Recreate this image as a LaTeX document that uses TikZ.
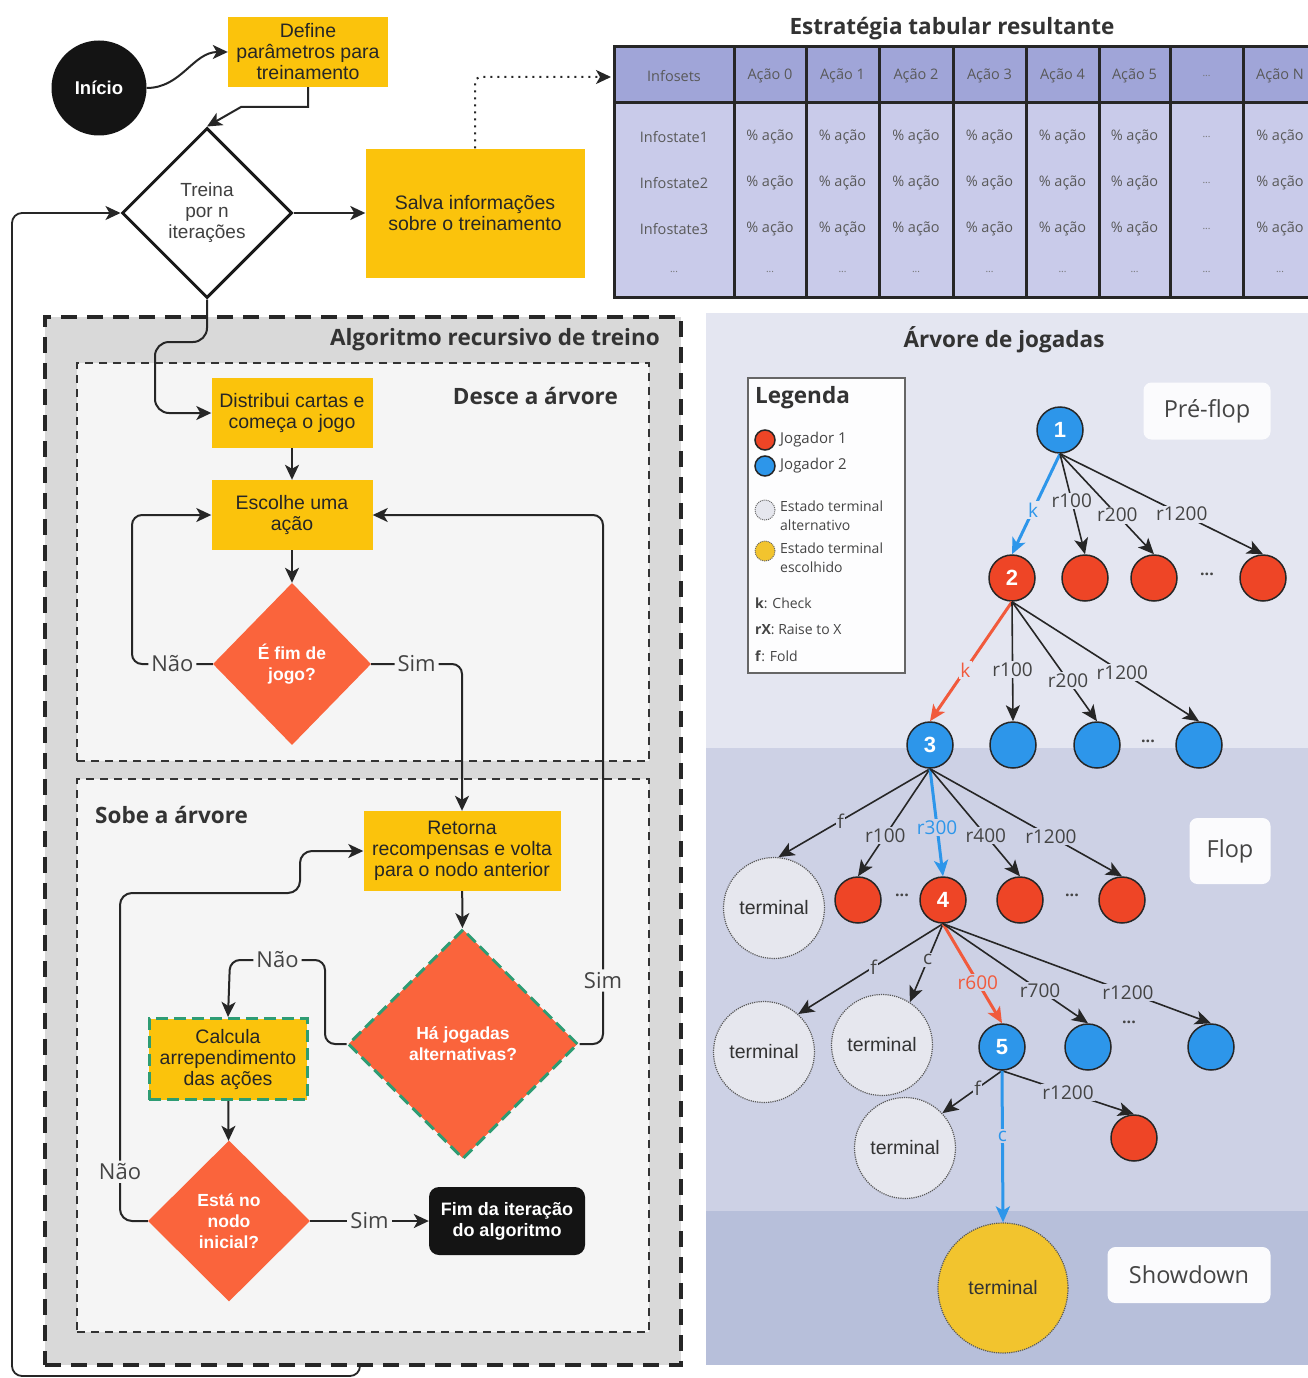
\documentclass[tikz,border=0pt]{standalone}
\usepackage{fontspec}
\setmainfont{Liberation Sans}
\newfontfamily\osf{Open Sans}
\usetikzlibrary{shapes.geometric,arrows.meta}
\definecolor{yel}{HTML}{FBC30C}
\definecolor{org}{HTML}{FA643C}
\definecolor{grn}{HTML}{2E9C73}
\definecolor{outerbg}{HTML}{D9D9D9}
\definecolor{innerbg}{HTML}{F5F5F5}
\definecolor{bandA}{HTML}{E4E6F1}
\definecolor{bandB}{HTML}{CDD1E5}
\definecolor{bandC}{HTML}{B7BFDA}
\definecolor{thead}{HTML}{A0A5D8}
\definecolor{tbody}{HTML}{C9CBEA}
\definecolor{pl1}{HTML}{EE4526}
\definecolor{pl2}{HTML}{2D96EA}
\definecolor{redl}{HTML}{F15A3C}
\definecolor{txt}{HTML}{333333}
\definecolor{lbl}{HTML}{444444}
\definecolor{termfill}{HTML}{E6E7EE}
\definecolor{gold}{HTML}{F2C42E}
\newcommand{\fs}[2]{\fontsize{#1}{#2}\selectfont}
\begin{document}
\begin{tikzpicture}[x=1pt,y=-1pt,
  ybox/.style={rectangle, fill=yel, align=center, inner sep=0pt, font=\fs{19.5}{21}, text=black!85},
  dmd/.style={diamond, aspect=1, inner sep=0pt, align=center},
  odmd/.style={dmd, fill=org, text=white, font=\fs{17.5}{21}\bfseries},
  arr/.style={draw=black!85, line width=2pt, -{Stealth[length=15pt,width=14pt,inset=4pt]}},
  flab/.style={fill=innerbg, inner sep=3pt, font=\osf\fs{22}{24}, text=lbl},
  ttl/.style={font=\osf\bfseries\fs{22.5}{26}, text=txt, inner sep=0pt},
  pnode/.style={circle, draw=black!85, line width=1.5pt, minimum size=46pt, inner sep=0pt, font=\bfseries\fs{22}{24}, text=white},
  p1/.style={pnode, fill=pl1},
  p2/.style={pnode, fill=pl2},
  term/.style={circle, fill=termfill, draw=black!65, densely dotted, line width=1.2pt, minimum size=101pt, inner sep=0pt, font=\fs{19.5}{20}, text=txt},
  tedge/.style={draw=black!85, line width=1.6pt, -{Stealth[length=16pt,width=14pt,inset=4pt]}},
  bedge/.style={tedge, draw=pl2, line width=3pt},
  redge/.style={tedge, draw=redl, line width=3pt},
  tl/.style={inner sep=1.5pt, font=\osf\fs{19}{20}, text=lbl},
  tlA/.style={tl, fill=bandA},
  tlB/.style={tl, fill=bandB},
  dots/.style={font=\osf\bfseries\fs{16}{18}, text=lbl, inner sep=0pt},
  phase/.style={rectangle, rounded corners=8pt, fill=white!85!bandA, font=\osf\fs{23.5}{26}, text=lbl, inner sep=0pt},
  tabt/.style={font=\osf\fs{14.5}{16}, text=black!65, inner sep=0pt},
  tabd/.style={font=\osf\fs{10}{12}, text=black!55, inner sep=0pt},
  lgtx/.style={font=\osf\fs{15}{17}, text=lbl, inner sep=0pt, anchor=west},
  lgsm/.style={font=\osf\fs{14}{19}, text=lbl, inner sep=0pt, anchor=west, align=left},
]
\useasboundingbox (0,0) rectangle (1308,1378);
\fill[white] (0,0) rectangle (1308,1378);
% ---------- right panel bands
\fill[bandA] (706,313) rectangle (1308,748);
\fill[bandB] (706,748) rectangle (1308,1211);
\fill[bandC] (706,1211) rectangle (1308,1365);
% ---------- algorithm boxes
\node[draw=black!85, fill=outerbg, line width=4pt, dash pattern=on 16pt off 10pt, minimum width=636pt, minimum height=1048pt, inner sep=0pt, anchor=north west] (algo) at (43,315) {};
\node[draw=black!80, fill=innerbg, line width=2pt, dash pattern=on 8pt off 6pt, minimum width=572pt, minimum height=398pt, inner sep=0pt, anchor=north west] (desce) at (76,362) {};
\node[draw=black!80, fill=innerbg, line width=2pt, dash pattern=on 8pt off 6pt, minimum width=572pt, minimum height=553pt, inner sep=0pt, anchor=north west] (sobe) at (76,778) {};
\node[ttl, anchor=east] (algot) at (660,340) {Algoritmo recursivo de treino};
\node[ttl, anchor=east] (descet) at (618,396) {Desce a árvore};
\node[ttl, anchor=west] (sobet) at (95,815) {Sobe a árvore};
\node[ttl] (tabtitle) at (952,29) {Estratégia tabular resultante};
\node[ttl] (arvt) at (1004,340) {Árvore de jogadas};
% ---------- table
\fill[thead] (614,47) rectangle (1308,103);
\fill[tbody] (614,103) rectangle (1308,297);
\draw[line width=3pt, black!85] (1308,47) -- (614,47) -- (614,297) -- (1308,297);
\draw[line width=3pt, black!85] (614,103) -- (1308,103);
\foreach \x in {734,806,879,953,1026,1099,1170,1243} \draw[line width=3pt, black!85] (\x,47) -- (\x,297);
\foreach \x/\t [count=\i] in {674/Infosets,770/Ação 0,842.5/Ação 1,916/Ação 2,989.5/Ação 3,1062.5/Ação 4,1134.5/Ação 5,1280/Ação N}
  \node[tabt] (h\i) at (\x,76) {\t};
\node[tabd] (h9) at (1206.5,76) {...};
\foreach \y/\r in {137/1,183/2,229/3} {
  \node[tabt] (r\r-0) at (674,\y) {Infostate\r};
  \foreach \x [count=\i] in {770,842.5,916,989.5,1062.5,1134.5} \node[tabt] (r\r-\i) at (\x,\y) {\% ação};
  \node[tabd] (r\r-7) at (1206.5,\y) {...};
  \node[tabt] (r\r-8) at (1280,\y) {\% ação};
}
\foreach \x [count=\i] in {674,770,842.5,916,989.5,1062.5,1134.5,1206.5,1280} \node[tabd] (r4-\i) at (\x,272) {...};
\coordinate (tabin) at (611,77);
% ---------- top flow
\node[circle, fill=black!92, minimum size=95pt, inner sep=0pt, text=white, font=\bfseries\fs{18.5}{20}] (inicio) at (99,88) {Início};
\node[ybox, minimum width=160pt, minimum height=70pt] (define) at (308,52) {Define\\parâmetros para\\treinamento};
\node[dmd, draw=black!90, line width=3pt, minimum width=170pt, minimum height=170pt, font=\fs{19}{21}, text=black!75] (treina) at (207,213) {Treina\\por n\\iterações};
\node[ybox, minimum width=219pt, minimum height=129pt] (salva) at (475,213) {Salva informações\\sobre o treinamento};
\draw[arr] (inicio.east) to[out=0,in=180] (define.west);
\draw[arr] (define.south) -- (308,107) -- (241,107) -- (treina.north);
\draw[arr] (treina.east) -- (salva.west);
\draw[arr, dash pattern=on 2pt off 5pt, rounded corners=6pt] (salva.north) |- (tabin);
% ---------- desce
\node[ybox, minimum width=161pt, minimum height=70pt] (distribui) at (292,413) {Distribui cartas e\\começa o jogo};
\node[ybox, minimum width=161pt, minimum height=70pt] (escolhe) at (292,515) {Escolhe uma\\ação};
\node[odmd, minimum width=158pt, minimum height=162pt] (fimjogo) at (292,664) {É fim de\\jogo?};
\draw[arr, rounded corners=14pt] (treina.south) -- (207,342) -- (155,342) -- (155,413) -- (distribui.west);
\draw[arr] (distribui) -- (escolhe);
\draw[arr] (escolhe) -- (fimjogo);
\draw[arr, rounded corners=10pt] (fimjogo.west) -- node[flab]{Não} (132,664) -- (132,515) -- (escolhe.west);
% ---------- sobe
\node[ybox, minimum width=197pt, minimum height=80pt] (retorna) at (462,851) {Retorna\\recompensas e volta\\para o nodo anterior};
\node[odmd, draw=grn, line width=3pt, dash pattern=on 12pt off 6pt, minimum width=230pt, minimum height=230pt] (ha) at (463,1044) {Há jogadas\\alternativas?};
\node[ybox, draw=grn, line width=3pt, dash pattern=on 12pt off 6pt, minimum width=158pt, minimum height=81pt] (calcula) at (228,1059) {Calcula\\arrependimento\\das ações};
\node[odmd, minimum width=162pt, minimum height=161pt] (esta) at (229,1221) {Está no\\nodo\\inicial?};
\node[rectangle, rounded corners=10pt, fill=black!92, text=white, font=\fs{18}{21}\bfseries, minimum width=156pt, minimum height=68pt, align=center, inner sep=0pt] (fimit) at (507,1221) {Fim da iteração\\do algoritmo};
\draw[arr, rounded corners=10pt] (fimjogo.east) -- node[flab]{Sim} (462,664) -- (retorna.north);
\draw[arr] (retorna) -- (ha);
\draw[arr, rounded corners=10pt] (ha.west) -- (325,1044) -- (325,960) -- node[flab]{Não} (230,960) -- (calcula.north);
\draw[arr, rounded corners=10pt] (ha.east) -- (603,1044) -- node[flab, pos=0.12]{Sim} (603,515) -- (escolhe.east);
\draw[arr] (calcula) -- (esta);
\draw[arr] (esta.east) -- node[flab]{Sim} (fimit.west);
\draw[arr, rounded corners=12pt] (esta.west) -- (120,1221) -- node[flab, pos=0.15]{Não} (120,893) -- (300,893) -- (300,851) -- (retorna.west);
\coordinate (lpstart) at (360,1364);
\draw[arr, line width=1.8pt, rounded corners=10pt] (lpstart) -- (360,1376) -- (12,1376) -- (12,213) -- (treina.west);
% ---------- legend
\node[draw=black!60, line width=2pt, fill=white!93!bandA, minimum width=157pt, minimum height=295pt, inner sep=0pt, anchor=north west] (legend) at (747,377) {};
\node[font=\osf\bfseries\fs{22.5}{24}, text=txt, inner sep=0pt, anchor=west] (lgt) at (755,398) {Legenda};
\node[circle, fill=pl1, draw=black!85, line width=1.5pt, minimum size=20pt, inner sep=0pt] (lg1) at (765,440) {};
\node[lgtx] (lg1t) at (780,440) {Jogador 1};
\node[circle, fill=pl2, draw=black!85, line width=1.5pt, minimum size=20pt, inner sep=0pt] (lg2) at (765,466) {};
\node[lgtx] (lg2t) at (780,466) {Jogador 2};
\node[circle, fill=termfill, draw=black!60, densely dotted, line width=1pt, minimum size=20pt, inner sep=0pt] (lg3) at (765,510) {};
\node[lgsm] (lg3t) at (780,516) {Estado terminal\\alternativo};
\node[circle, fill=gold, draw=black!60, densely dotted, line width=1pt, minimum size=20pt, inner sep=0pt] (lg4) at (765,551) {};
\node[lgsm] (lg4t) at (780,558) {Estado terminal\\escolhido};
\node[lgsm] (lgk) at (755,603) {\textbf{k}: Check};
\node[lgsm] (lgr) at (755,629) {\textbf{rX}: Raise to X};
\node[lgsm] (lgf) at (755,656) {\textbf{f}: Fold};
% ---------- phase labels
\node[phase, minimum width=127pt, minimum height=57pt] (pre) at (1207,411) {Pré-flop};
\node[phase, minimum width=81pt, minimum height=66pt] (flop) at (1230,851) {Flop};
\node[phase, minimum width=163pt, minimum height=56pt] (show) at (1189,1275) {Showdown};
% ---------- tree nodes
\node[p2] (n1) at (1060,430) {1};
\node[p1] (n2) at (1012,578) {2};
\node[p1] (a2) at (1085,578) {};
\node[p1] (b2) at (1154,578) {};
\node[dots] (d2) at (1207,574) {...};
\node[p1] (c2) at (1263,578) {};
\node[p2] (n3) at (930,745) {3};
\node[p2] (a3) at (1013,745) {};
\node[p2] (b3) at (1097,745) {};
\node[dots] (d3) at (1148,741) {...};
\node[p2] (c3) at (1199,745) {};
\node[term] (t1) at (774,908) {terminal};
\node[p1] (a4) at (858,900) {};
\node[dots] (d4a) at (902,895) {...};
\node[p1] (n4) at (943,900) {4};
\node[p1] (b4) at (1020,900) {};
\node[dots] (d4b) at (1072,895) {...};
\node[p1] (c4) at (1122,900) {};
\node[term] (t2) at (764,1052) {terminal};
\node[term] (t3) at (882,1045) {terminal};
\node[p2] (n5) at (1002,1047) {5};
\node[p2] (a5) at (1088,1047) {};
\node[dots] (d5) at (1129,1022) {...};
\node[p2] (c5) at (1211,1047) {};
\node[term] (t4) at (905,1148) {terminal};
\node[p1] (a6) at (1134,1138) {};
\node[term, fill=gold, minimum size=130pt, text=black!80] (t5) at (1003,1288) {terminal};
% ---------- tree edges
\draw[bedge] (n1.south) -- node[tlA, pos=0.56, text=pl2]{k} (n2.north);
\draw[tedge] (n1.south) -- node[tlA, pos=0.47]{r100} (a2.north);
\draw[tedge] (n1.south) -- node[tlA, pos=0.61]{r200} (b2.north);
\draw[tedge] (n1.south) -- node[tlA, pos=0.6]{r1200} (c2.north);
\draw[redge] (n2.south) -- node[tlA, pos=0.57, text=redl]{k} (n3.north);
\draw[tedge] (n2.south) -- node[tlA, pos=0.57]{r100} (a3.north);
\draw[tedge] (n2.south) -- node[tlA, pos=0.66]{r200} (b3.north);
\draw[tedge] (n2.south) -- node[tlA, pos=0.59]{r1200} (c3.north);
\draw[tedge] (n3.south) -- node[tlB, pos=0.59]{f} (t1.85);
\draw[tedge] (n3.south) -- node[tlB, pos=0.62]{r100} (a4.north);
\draw[bedge] (n3.south) -- node[tlB, pos=0.55, text=pl2]{r300} (n4.north);
\draw[tedge] (n3.south) -- node[tlB, pos=0.62]{r400} (b4.north);
\draw[tedge] (n3.south) -- node[tlB, pos=0.63]{r1200} (c4.north);
\draw[tedge] (n4.south) -- node[tlB, pos=0.48]{f} (t2.48);
\draw[tedge] (n4.south) -- node[tlB, pos=0.46]{c} (t3.57);
\draw[redge] (n4.south) -- node[tlB, pos=0.59, text=redl]{r600} (n5.north);
\draw[tedge] (n4.south) -- node[tlB, pos=0.67]{r700} (a5.north);
\draw[tedge] (n4.south) -- node[tlB, pos=0.69]{r1200} (c5.north);
\draw[tedge] (n5.south) -- node[tlB, pos=0.41]{f} (t4.43);
\draw[tedge] (n5.south) -- node[tlB, pos=0.5]{r1200} (a6.north);
\draw[bedge] (n5.south) -- node[tlB, pos=0.43, text=pl2]{c} (t5.north);
\end{tikzpicture}
\end{document}
